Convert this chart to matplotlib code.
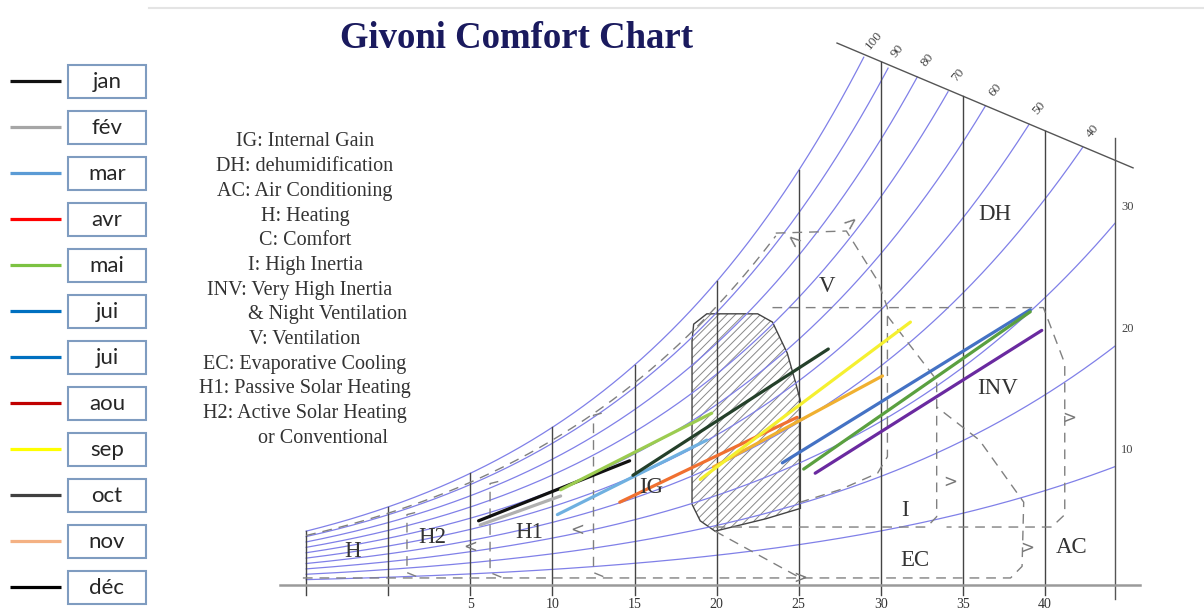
import numpy as np
import matplotlib.pyplot as plt
from matplotlib.patches import Polygon, Rectangle

plt.rcParams['hatch.linewidth'] = 0.7

# legend entries (left column)
months = ['jan', 'fév', 'mar', 'avr', 'mai', 'jui', 'jui', 'aou', 'sep', 'oct', 'nov', 'déc']
month_colors = ['#111111', '#a6a6a6', '#5b9bd5', '#ff0000', '#7cc242', '#0070c0',
                '#0070c0', '#c00000', '#ffff00', '#404040', '#f4b183', '#000000']

# monthly lines drawn on the chart: temperature (°C) and humidity ratio (g/kg)
line_t0 = [5.5, 5.6, 10.3, 10.5, 14.9, 14.1, 19.8, 19.0, 24.0, 25.3, 26.0]
line_w0 = [3.1, 2.9, 3.4, 4.6, 5.3, 4.0, 5.7, 5.1, 5.9, 5.6, 5.4]
line_t1 = [14.7, 10.5, 19.4, 19.7, 26.8, 24.9, 30.1, 31.8, 39.1, 39.1, 39.8]
line_w1 = [6.0, 4.3, 7.0, 8.3, 11.4, 8.1, 10.1, 12.7, 13.3, 13.2, 12.3]
line_colors = ['#111111', '#b0b0b0', '#6fb0e0', '#9ccc50', '#24402a', '#f07030',
               '#f0b030', '#f5f030', '#4472c4', '#5aa040', '#6a2aa0']

# chart grid
rh_levels = [100, 90, 80, 70, 60, 50, 40, 30, 20, 10]
temp_lines = [-5, 0, 5, 10, 15, 20, 25, 30, 35, 40]
temp_ticks = [5, 10, 15, 20, 25, 30, 35, 40]
t_right = 44.26
diag_t = [27.33, 45.36]
diag_w = [26.18, 20.15]

zone_labels = ['H', 'H2', 'H1', 'IG', 'V', 'DH', 'INV', 'I', 'EC', 'AC']
zone_t = [-2.2, 2.7, 8.6, 16.0, 26.7, 36.95, 37.1, 31.5, 32.1, 41.6]
zone_w = [1.6, 2.3, 2.55, 4.7, 14.4, 17.9, 9.5, 3.6, 1.2, 1.8]

notes = ['IG: Internal Gain', 'DH: dehumidification', 'AC: Air Conditioning', 'H: Heating',
         'C: Comfort', 'I: High Inertia', 'INV: Very High Inertia', '& Night Ventilation',
         'V: Ventilation', 'EC: Evaporative Cooling', 'H1: Passive Solar Heating',
         'H2: Active Solar Heating', 'or Conventional']
note_dx = [0, 0, 0, 0, 0, 0, -5, 23, 0, 0, 0, 0, 18]

# comfort zone outline (hatched)
comfort_t = [18.5, 18.6, 19.4, 22.5, 23.4, 24.3, 24.8, 25.1, 25.1, 23.0, 19.9, 19.0, 18.5]
comfort_w = [11.8, 12.6, 13.1, 13.1, 12.7, 11.2, 9.8, 8.9, 3.7, 3.2, 2.6, 3.1, 3.9]

# direction marks on the zone borders
arrow_t = [5.0, 11.5, 25.1, 34.2, 38.9, 41.5, 24.6, 28.2]
arrow_w = [1.84, 2.66, 0.34, 5.0, 1.8, 8.1, 16.6, 17.5]
arrow_s = ['<', '<', '>', '>', '>', '>', '<', '>']
arrow_r = [0, 0, 0, 0, 0, 0, -40, 40]


def w_of(t, rh):
    ps = 0.61094 * np.exp(17.625 * t / (t + 243.04))
    pv = rh / 100.0 * ps
    return 622.0 * pv / (101.325 - pv)


def w_diag(t):
    return diag_w[0] + (diag_w[1] - diag_w[0]) * (t - diag_t[0]) / (diag_t[1] - diag_t[0])


fig = plt.figure(figsize=(12.04, 6.13), dpi=100)
ax = fig.add_axes([0, 0, 1, 1])
ax.set_xlim(-23.645, 49.68)
ax.set_ylim(-1.353, 28.26)
ax.axis('off')

grid_c = '#8080e8'
dash_c = '#808080'
serif = 'Liberation Serif'

# faint frame line on top
ax.plot([-14.6, 49.7], [27.87, 27.87], color='#e4e4e4', lw=1.5)

# relative humidity curves
tt = np.linspace(-5, t_right, 500)
for rh in rh_levels:
    ww = w_of(tt, rh)
    ok = ww <= w_diag(tt)
    if ok.all():
        ax.plot(tt, ww, color=grid_c, lw=0.9)
        ax.annotate(str(rh), (tt[-1], ww[-1]), xytext=(9, 12), textcoords='offset points',
                    ha='center', va='center', fontsize=9, family=serif, color='#444')
    else:
        k = np.argmin(ok)
        ax.plot(tt[:k], ww[:k], color=grid_c, lw=0.9)
        ax.annotate(str(rh), (tt[k], ww[k]), xytext=(6, 10), textcoords='offset points',
                    ha='center', va='center', fontsize=9.5, family=serif, color='#444',
                    rotation=50)

# top slanted line and right border
ax.plot([diag_t[0], diag_t[1]], [diag_w[0], diag_w[1]], color='#555', lw=1)
ax.plot([t_right, t_right], [-0.7, 21.6], color='#555', lw=1)

# dry bulb lines
for t in temp_lines:
    top = min(w_of(t, 100), w_diag(t)) if t > diag_t[0] else w_of(t, 100)
    ax.plot([t, t], [-0.5, top], color='#444', lw=1)
for t in temp_ticks:
    ax.text(t, -0.95, str(t), ha='center', va='center', fontsize=10,
            family=serif, color='#333')
ax.plot([-6.6, 45.8], [0, 0], color='#9a9a9a', lw=1.8)

# zones (dashed outlines)
dash = dict(color=dash_c, lw=1, dashes=(7, 5))
th = np.linspace(-5, 23.6, 200)
ax.plot(th, w_of(th, 92), **dash)
ax.plot([23.6, 27.9, 29.8, 30.4, 30.4, 29.8, 27.5, 25.1],
        [17.0, 17.1, 14.7, 13.4, 6.2, 5.4, 4.6, 4.0], **dash)
ax.plot([23.4, 39.9, 41.2, 41.2, 40.4, 34.0], [13.4, 13.4, 10.7, 3.4, 2.8, 2.8], **dash)
ax.plot([30.4, 33.4, 33.4, 32.8, 19.9], [13.0, 9.9, 3.3, 2.8, 2.8], **dash)
ax.plot([-5.2, 37.9, 38.6, 38.7, 36.0, 33.4], [0.34, 0.34, 0.9, 4.0, 7.0, 8.6], **dash)
ax.plot([19.9, 25.1], [2.6, 0.34], **dash)
for t, w in [(1.14, 3.4), (6.2, 4.9), (12.5, 8.2)]:
    ax.plot([t + 0.5, t, t, t + 0.8], [w + 0.1, w, 0.6, 0.34], **dash)

for s, t, w, r in zip(arrow_s, arrow_t, arrow_w, arrow_r):
    ax.text(t, w, s, ha='center', va='center', fontsize=12, family='DejaVu Sans',
            color='#777', rotation=r)

ax.add_patch(Polygon(np.column_stack([comfort_t, comfort_w]), closed=True,
                     facecolor='none', edgecolor='#888', lw=0, hatch='////'))
ax.add_patch(Polygon(np.column_stack([comfort_t, comfort_w]), closed=True,
                     facecolor='none', edgecolor='#444', lw=1))

for lab, t, w in zip(zone_labels, zone_t, zone_w):
    ax.text(t, w, lab, ha='center', va='center', fontsize=16.5,
            family=serif, color='#333')

# title and notes
fig.text(517 / 1204, 1 - 38 / 613, 'Givoni Comfort Chart', ha='center', va='center',
         fontsize=26.5, fontweight='bold', family=serif, color='#1a1a5e')
for i, (s, dx) in enumerate(zip(notes, note_dx)):
    fig.text((305 + dx) / 1204, 1 - (142 + i * 24.7) / 613, s, ha='center', va='center',
             fontsize=14.5, family=serif, color='#333')

# legend column
lg = fig.add_axes([0, 0, 150 / 1204, 1])
lg.set_xlim(0, 150)
lg.set_ylim(613, 0)
lg.axis('off')
ys = np.linspace(81, 587, len(months))
for m, c, y in zip(months, month_colors, ys):
    lg.plot([10, 61], [y, y], color=c, lw=2.3, solid_capstyle='butt')
    lg.add_patch(Rectangle((68, y - 16.5), 78, 33, facecolor='white',
                           edgecolor='#7f9cc0', lw=1.5))
    lg.text(107, y + 1, m, ha='center', va='center', fontsize=16,
            family='Lato', color='#262626')

# monthly lines
for a, b, c, d, col in zip(line_t0, line_w0, line_t1, line_w1, line_colors):
    ax.plot([a, c], [b, d], color=col, lw=2.3, solid_capstyle='round')

fig.savefig('out.png', dpi=100)
